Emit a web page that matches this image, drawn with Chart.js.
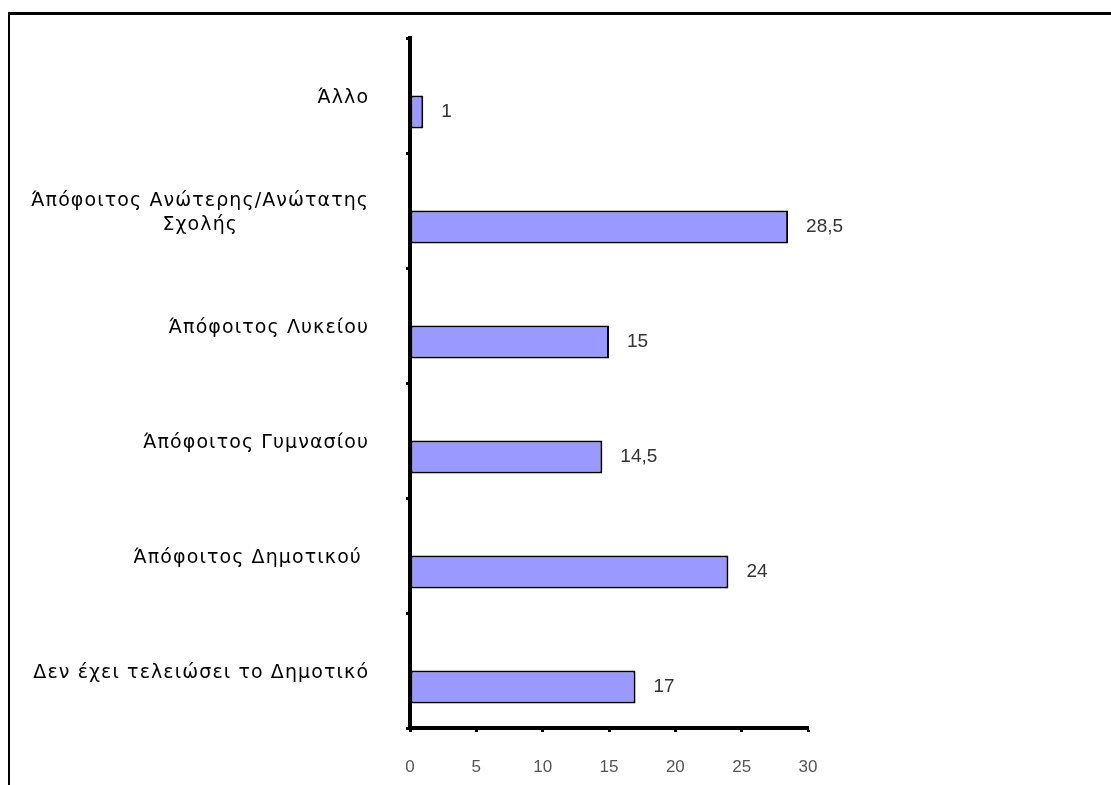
<!DOCTYPE html>
<html lang="el">
<head>
    <meta charset="UTF-8">
    <title>Επίπεδο εκπαίδευσης</title>
    <script src="https://cdn.jsdelivr.net/npm/chart.js"></script>
    <style>
        body {
            margin: 0;
            padding: 0;
            background-color: #ffffff;
            overflow: hidden;
        }

        .frame {
            position: relative;
            width: 1111px;
            height: 785px;
        }

        .frame-border {
            position: absolute;
            left: 8px;
            top: 12px;
            width: 1200px;
            height: 900px;
            border-top: 3px solid #000;
            border-left: 2px solid #000;
            pointer-events: none;
        }

        canvas {
            position: absolute;
            left: 0;
            top: 0;
        }
    </style>
</head>
<body>
    <div class="frame">
        <canvas id="education-chart" width="1111" height="785"></canvas>
        <div class="frame-border"></div>
    </div>

    <script>
        // Categories top to bottom, a nested array is a two-line label
        const categories = [
            'Άλλο',
            ['Άπόφοιτος Ανώτερης/Ανώτατης', 'Σχολής'],
            'Άπόφοιτος Λυκείου',
            'Άπόφοιτος Γυμνασίου',
            'Άπόφοιτος Δημοτικού ',
            'Δεν έχει τελειώσει το Δημοτικό'
        ];
        const shares = [1, 28.5, 15, 14.5, 24, 17];
        // unused first series, keeps the bars in the lower half of each row
        const emptySeries = [null, null, null, null, null, null];
        const xMin = 0;
        const xMax = 30;
        const xStep = 5;

        const formatValue = (v) => String(v).replace('.', ',');

        // Category names drawn by hand so the wrapped line can be centred
        const categoryLabels = {
            id: 'categoryLabels',
            afterDraw(chart) {
                const ctx = chart.ctx;
                const yScale = chart.scales.y;
                const right = 368;
                const spacing = 1.1;
                const lineHeight = 24;
                ctx.save();
                ctx.font = '19px "DejaVu Sans"';
                ctx.letterSpacing = spacing + 'px';
                ctx.fillStyle = '#000';
                ctx.textBaseline = 'middle';
                categories.forEach((label, i) => {
                    const lines = Array.isArray(label) ? label : [label];
                    const widths = lines.map((l) => ctx.measureText(l).width);
                    const maxW = Math.max(...widths);
                    const cy = yScale.getPixelForValue(i) + 3;
                    const top = cy - (lines.length - 1) * lineHeight / 2;
                    lines.forEach((line, j) => {
                        const y = top + j * lineHeight;
                        if (lines.length > 1) {
                            ctx.textAlign = 'center';
                            ctx.fillText(line, right + spacing - maxW / 2, y);
                        } else {
                            ctx.textAlign = 'right';
                            ctx.fillText(line, right + spacing, y);
                        }
                    });
                });
                ctx.restore();
            }
        };

        // Value written to the right of every bar
        const barValues = {
            id: 'barValues',
            afterDatasetsDraw(chart) {
                const ctx = chart.ctx;
                const meta = chart.getDatasetMeta(1);
                ctx.save();
                ctx.font = '19px "Liberation Sans", Arial, sans-serif';
                ctx.fillStyle = '#333';
                ctx.textAlign = 'left';
                ctx.textBaseline = 'middle';
                meta.data.forEach((bar, i) => {
                    ctx.fillText(formatValue(shares[i]), bar.x + 18, bar.y);
                });
                ctx.restore();
            }
        };

        new Chart(document.getElementById('education-chart'), {
            type: 'bar',
            data: {
                labels: categories,
                datasets: [
                    {
                        data: emptySeries,
                        backgroundColor: '#9999ff'
                    },
                    {
                        data: shares,
                        backgroundColor: '#9999ff',
                        borderColor: '#000',
                        borderWidth: 2,
                        borderSkipped: false
                    }
                ]
            },
            options: {
                indexAxis: 'y',
                responsive: false,
                animation: false,
                categoryPercentage: 0.574,
                barPercentage: 1,
                layout: {
                    padding: { left: 0, top: 38, right: 303, bottom: 0 }
                },
                plugins: {
                    legend: { display: false },
                    tooltip: { enabled: false }
                },
                scales: {
                    x: {
                        min: xMin,
                        max: xMax,
                        afterFit: (scale) => { scale.height = 57; },
                        border: { display: true, color: '#000', width: 4 },
                        grid: {
                            drawOnChartArea: false,
                            drawTicks: true,
                            tickLength: 4,
                            tickWidth: 3,
                            tickColor: '#000'
                        },
                        ticks: {
                            stepSize: xStep,
                            padding: 25,
                            color: '#555',
                            font: { family: '"Liberation Sans", Arial, sans-serif', size: 17 },
                            maxRotation: 0
                        }
                    },
                    y: {
                        afterFit: (scale) => { scale.width = 410; },
                        border: { display: true, color: '#000', width: 4 },
                        grid: {
                            offset: true,
                            drawOnChartArea: false,
                            drawTicks: true,
                            tickLength: 4,
                            tickWidth: 3,
                            tickColor: '#000'
                        },
                        ticks: { display: false }
                    }
                }
            },
            plugins: [categoryLabels, barValues]
        });
    </script>
</body>
</html>
